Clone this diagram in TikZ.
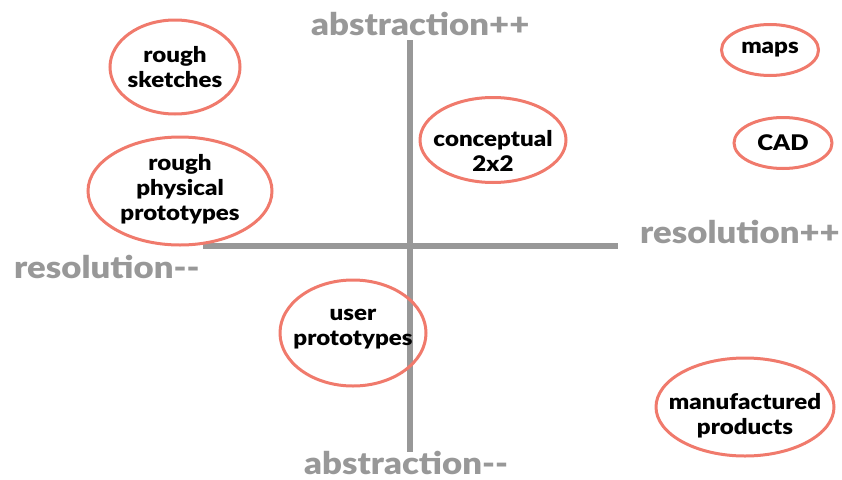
\documentclass[tikz,border=0pt]{standalone}
\usepackage{fontspec}
\setmainfont{Lato Black}[FakeStretch=1.12]
\usetikzlibrary{shapes.geometric}
\definecolor{axisgray}{RGB}{152,152,152}
\definecolor{salmon}{RGB}{240,122,108}
\begin{document}
\begin{tikzpicture}[x=1pt,y=-1pt,
  blob/.style={ellipse, draw=salmon, line width=3pt, inner sep=0pt},
  word/.style={align=center, font=\fontsize{21.5}{25}\selectfont, text=black},
  axislabel/.style={font=\fontsize{31}{31}\selectfont, text=axisgray, inner sep=0pt},
  axisline/.style={draw=axisgray, line width=6pt}]
\useasboundingbox (0,0) rectangle (842,479);

% axes
\coordinate (top) at (410,40);
\coordinate (bottom) at (410,452);
\coordinate (left) at (203,246);
\coordinate (right) at (618,246);
\draw[axisline] (top) -- (bottom);
\draw[axisline] (left) -- (right);

% axis labels
\node[axislabel, anchor=west] (absup) at (311,24) {abstraction++};
\node[axislabel, anchor=west] (absdown) at (304,463) {abstraction-{}-};
\node[axislabel, anchor=east] (resup) at (840,232) {resolution++};
\node[axislabel, anchor=west] (resdown) at (14,267) {resolution-{}-};

% rough sketches
\node[blob, minimum width=130pt, minimum height=94pt] (e1) at (175,67) {};
\node[word] (t1) at (175,67) {rough\\sketches};

% rough physical prototypes
\node[blob, minimum width=184pt, minimum height=108pt] (e2) at (180,191) {};
\node[word] (t2) at (180,189) {rough\\physical\\prototypes};

% conceptual 2x2
\node[blob, minimum width=146pt, minimum height=85pt] (e3) at (493,140) {};
\node[word] (t3) at (493,151) {conceptual\\2x2};

% maps
\node[blob, minimum width=97pt, minimum height=51pt] (e4) at (770,50) {};
\node[word] (t4) at (770,50) {maps};

% CAD
\node[blob, minimum width=98pt, minimum height=51pt] (e5) at (783,143) {};
\node[word] (t5) at (783,143) {CAD};

% user prototypes
\node[blob, minimum width=146pt, minimum height=106pt] (e6) at (353,333) {};
\node[word] (t6) at (353,329) {user\\prototypes};

% manufactured products
\node[blob, minimum width=178pt, minimum height=98pt] (e7) at (745,407) {};
\node[word] (t7) at (745,416) {manufactured\\products};
\end{tikzpicture}
\end{document}
